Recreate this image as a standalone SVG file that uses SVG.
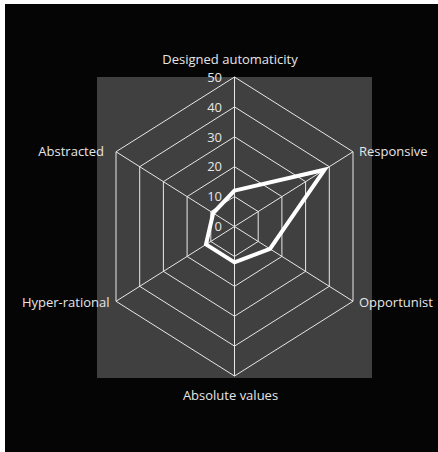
<svg xmlns="http://www.w3.org/2000/svg" width="438" height="452" viewBox="0 0 438 452">
<style>
.lbl{font-family:"Open Sans","Noto Sans","Liberation Sans",sans-serif;font-size:13px;fill:#e6e6e6}
.tick{font-family:"Open Sans","Noto Sans","Liberation Sans",sans-serif;font-size:13px;fill:#e6e6e6;text-anchor:end}
.grid{fill:none;stroke:#e8e8e8;stroke-width:1}
.data{fill:none;stroke:#ffffff;stroke-width:4;stroke-linejoin:miter}
</style>
<rect x="0" y="0" width="438" height="452" fill="#ffffff"/>
<rect x="5" y="4" width="433" height="448" fill="#050505"/>
<rect x="97" y="77" width="275" height="301" fill="#404040"/>
<g id="grid">
<polygon class="grid" points="234.5,77 353,151.75 353,301.25 234.5,376 116,301.25 116,151.75"/>
<polygon class="grid" points="234.5,106.9 329.3,166.7 329.3,286.3 234.5,346.1 139.7,286.3 139.7,166.7"/>
<polygon class="grid" points="234.5,136.8 305.6,181.65 305.6,271.35 234.5,316.2 163.4,271.35 163.4,181.65"/>
<polygon class="grid" points="234.5,166.7 281.9,196.6 281.9,256.4 234.5,286.3 187.1,256.4 187.1,196.6"/>
<polygon class="grid" points="234.5,196.6 258.2,211.55 258.2,241.45 234.5,256.4 210.8,241.45 210.8,211.55"/>
<path class="grid" d="M234.5,226.5L234.5,77M234.5,226.5L353,151.75M234.5,226.5L353,301.25M234.5,226.5L234.5,376M234.5,226.5L116,301.25M234.5,226.5L116,151.75"/>
</g>
<g id="ticks">
<text class="tick" x="222" y="81.5">50</text>
<text class="tick" x="222" y="111.5">40</text>
<text class="tick" x="222" y="141.5">30</text>
<text class="tick" x="222" y="171.2">20</text>
<text class="tick" x="222" y="201">10</text>
<text class="tick" x="222" y="231">0</text>
</g>
<g id="series">
<polygon class="data" points="234.5,190.6 324.6,169.7 270,248.9 234.5,262.4 206,244.4 213.2,213"/>
</g>
<g id="axis-designed"><text class="lbl" x="230" y="64" text-anchor="middle">Designed automaticity</text></g>
<g id="axis-responsive"><text class="lbl" x="359" y="156">Responsive</text></g>
<g id="axis-opportunist"><text class="lbl" x="359" y="306.5">Opportunist</text></g>
<g id="axis-absolute"><text class="lbl" x="230.5" y="400" text-anchor="middle">Absolute values</text></g>
<g id="axis-hyper"><text class="lbl" x="109.5" y="306.5" text-anchor="end">Hyper-rational</text></g>
<g id="axis-abstracted"><text class="lbl" x="104" y="156" text-anchor="end">Abstracted</text></g>
</svg>
